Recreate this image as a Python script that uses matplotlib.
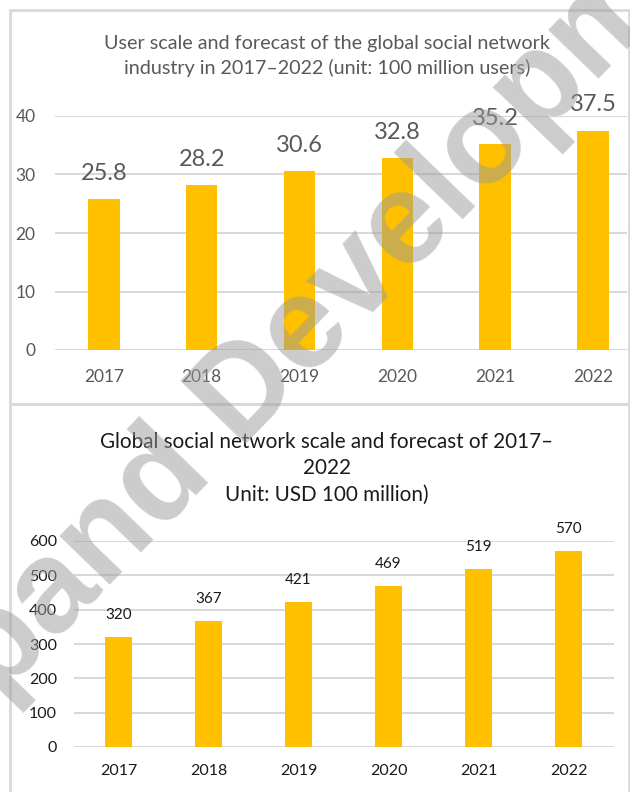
import matplotlib
matplotlib.use("Agg")
import matplotlib.pyplot as plt
from matplotlib.patches import Rectangle

years = ["2017", "2018", "2019", "2020", "2021", "2022"]
users = [25.8, 28.2, 30.6, 32.8, 35.2, 37.5]
market = [320, 367, 421, 469, 519, 570]
user_ticks = [0, 10, 20, 30, 40]
market_ticks = [0, 100, 200, 300, 400, 500, 600]
title_top = "User scale and forecast of the global social network\nindustry in 2017\u20132022 (unit: 100 million users)"
title_bottom = "Global social network scale and forecast of 2017\u2013\n2022\nUnit: USD 100 million)"
watermark = "Expand Development"

W, H = 630, 792
plt.rcParams['font.family'] = ['Lato', 'DejaVu Sans']
fig = plt.figure(figsize=(W / 100, H / 100), dpi=100)
fig.patch.set_facecolor("white")

BAR = "#FFC000"
GRID = "#D9D9D9"
GRAYTXT = "#595959"
BLACKTXT = "#1a1a1a"


def fx(px):
    return px / W


def fy(py):
    return 1 - py / H


# panel borders
for (x0, y0, x1, y1) in [(10, 10, 629, 404), (10, 404, 629, 800)]:
    fig.add_artist(Rectangle((fx(x0), fy(y1)), fx(x1) - fx(x0), fy(y0) - fy(y1),
                             transform=fig.transFigure, fill=False,
                             edgecolor=GRID, linewidth=2, zorder=0))

# ---- top chart ----
ax1 = fig.add_axes([fx(55), fy(350), fx(627) - fx(55), fy(116) - fy(350)])
x = list(range(len(years)))
b1 = ax1.bar(x, users, width=0.32, color=BAR, zorder=2)
ax1.set_xlim(-0.5, -0.5 + (627 - 55) / 97.8)
ax1.set_ylim(0, 40)
ax1.set_yticks(user_ticks)
ax1.set_xticks(x)
ax1.set_xticklabels(years)
ax1.grid(axis="y", color=GRID, linewidth=1.5, zorder=0)
for s in ax1.spines.values():
    s.set_visible(False)
ax1.tick_params(axis="both", length=0, colors=GRAYTXT, labelsize=12.5)
ax1.tick_params(axis="x", pad=14)
ax1.tick_params(axis="y", pad=14)
ax1.bar_label(b1, labels=[f"{v:.1f}" for v in users], padding=11,
              fontsize=17, color=GRAYTXT)
ax1.set_facecolor("none")
fig.text(fx(327), fy(56), title_top, ha="center", va="center",
         fontsize=14.2, color=GRAYTXT, linespacing=1.45)

# ---- bottom chart ----
ax2 = fig.add_axes([fx(73.5), fy(747), fx(613.5) - fx(73.5), fy(541) - fy(747)])
b2 = ax2.bar(x, market, width=0.31, color=BAR, zorder=2)
ax2.set_xlim(-0.5, 5.5)
ax2.set_ylim(0, 600)
ax2.set_yticks(market_ticks)
ax2.set_xticks(x)
ax2.set_xticklabels(years)
ax2.grid(axis="y", color=GRID, linewidth=1.5, zorder=0)
for s in ax2.spines.values():
    s.set_visible(False)
ax2.tick_params(axis="both", length=0, colors=BLACKTXT, labelsize=11.5)
ax2.tick_params(axis="x", pad=12)
ax2.tick_params(axis="y", pad=12)
ax2.bar_label(b2, labels=[str(v) for v in market], padding=11,
              fontsize=11, color=BLACKTXT)
ax2.set_facecolor("none")
fig.text(fx(327), fy(468), title_bottom, ha="center", va="center",
         fontsize=14.9, color=BLACKTXT, linespacing=1.4)

# watermark
fig.text(fx(324), fy(314), watermark, ha="center", va="center",
         rotation=46, rotation_mode="anchor", fontsize=94,
         fontweight="bold", family="Liberation Sans",
         color="#9a9a9a", alpha=0.5, zorder=10)

fig.savefig("out.png", dpi=100, facecolor="white")
